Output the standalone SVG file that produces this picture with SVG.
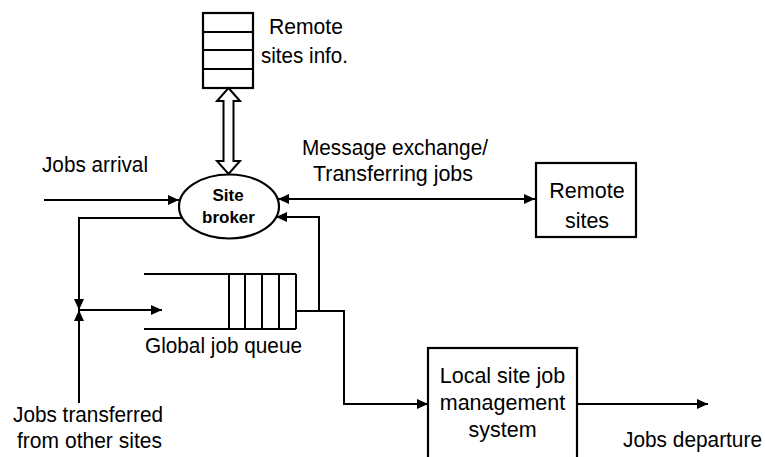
<svg xmlns="http://www.w3.org/2000/svg" width="765" height="457" viewBox="0 0 765 457">
<defs>
<marker id="ah" markerUnits="userSpaceOnUse" markerWidth="12" markerHeight="12" viewBox="0 0 12 12" refX="11" refY="6" orient="auto-start-reverse">
<path d="M0,1 L11,6 L0,11 Z" fill="#000"/>
</marker>
</defs>
<style>
.ln{fill:none;stroke:#000;stroke-width:2}
.bx{fill:#fff;stroke:#000;stroke-width:2.2}
.t{font-family:"Liberation Sans",Arial,sans-serif;font-size:21.5px;fill:#000}
.b{font-family:"Liberation Sans",Arial,sans-serif;font-size:17px;font-weight:bold;fill:#000}
</style>
<rect width="765" height="457" fill="#fff"/>
<g id="remote-info">
<rect class="bx" x="203" y="13" width="50" height="75"/>
<path class="ln" d="M203 32H253M203 50H253M203 69H253"/>
<text class="t" x="269" y="34" textLength="74" lengthAdjust="spacingAndGlyphs">Remote</text>
<text class="t" x="261" y="63" textLength="87" lengthAdjust="spacingAndGlyphs">sites info.</text>
</g>
<g id="site-broker">
<ellipse class="bx" cx="229" cy="206.5" rx="50" ry="32"/>
<text class="b" x="228" y="201" text-anchor="middle">Site</text>
<text class="b" x="228.5" y="223" text-anchor="middle">broker</text>
</g>
<g id="remote-sites">
<rect class="bx" x="536" y="163" width="100" height="74"/>
<text class="t" x="587" y="198" text-anchor="middle">Remote</text>
<text class="t" x="587" y="228" text-anchor="middle">sites</text>
</g>
<g id="global-queue">
<path class="ln" d="M144 274H296M144 329H296"/>
<path class="ln" d="M229 274V329M245 274V329M262 274V329M279 274V329M296 274V329"/>
<text class="t" x="145" y="353" textLength="157" lengthAdjust="spacingAndGlyphs">Global job queue</text>
</g>
<g id="local-system">
<rect class="bx" x="428" y="348" width="149" height="120"/>
<text class="t" x="502.5" y="383" text-anchor="middle">Local site job</text>
<text class="t" x="502.5" y="410" text-anchor="middle">management</text>
<text class="t" x="502.5" y="437" text-anchor="middle">system</text>
</g>
<g id="labels">
<text class="t" x="42" y="172" textLength="106" lengthAdjust="spacingAndGlyphs">Jobs arrival</text>
<text class="t" x="302" y="155" textLength="186" lengthAdjust="spacingAndGlyphs">Message exchange/</text>
<text class="t" x="313" y="181" textLength="160" lengthAdjust="spacingAndGlyphs">Transferring jobs</text>
<text class="t" x="13" y="422" textLength="150" lengthAdjust="spacingAndGlyphs">Jobs transferred</text>
<text class="t" x="17" y="448" textLength="145" lengthAdjust="spacingAndGlyphs">from other sites</text>
<text class="t" x="623" y="447" textLength="139" lengthAdjust="spacingAndGlyphs">Jobs departure</text>
</g>
<g id="connectors">
<path d="M228.5 88L240 101H233.5V161H240L228.5 174L217 161H223.5V101H217Z" fill="#fff" stroke="#000" stroke-width="2"/>
<path class="ln" d="M44 200H179" marker-end="url(#ah)"/>
<path class="ln" d="M278 199H535" marker-start="url(#ah)" marker-end="url(#ah)"/>
<path class="ln" d="M183 218H79V310" marker-end="url(#ah)"/>
<path class="ln" d="M79 403V310" marker-end="url(#ah)"/>
<path class="ln" d="M79 310H162" marker-end="url(#ah)"/>
<path class="ln" d="M296 311H344V404H428" marker-end="url(#ah)"/>
<path class="ln" d="M319 311V217H276" marker-end="url(#ah)"/>
<path class="ln" d="M577 404H708" marker-end="url(#ah)"/>
</g>
</svg>
